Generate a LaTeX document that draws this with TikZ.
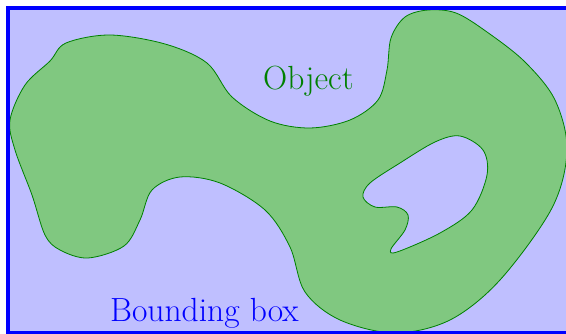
\documentclass[tikz,border=0pt]{standalone}
\begin{document}
\begin{tikzpicture}[x=1pt,y=-1pt,
  blobfill/.style={fill={rgb,255:red,128;green,200;blue,128}, draw=green!50!black, line width=0.8pt, even odd rule},
  lbl/.style={anchor=base west, inner sep=0pt, font=\fontsize{33.5}{40}\selectfont}]
\useasboundingbox (0,0) rectangle (566,334);
\fill[blue!25] (8,8) rectangle (572,333);
\path[blobfill]
  plot[smooth cycle, tension=0.55] coordinates {
   (10,120) (25,85) (50,61) (66,43) (110,35) (165,44) (207,63) (232,97)
   (270,121) (310,128) (350,120) (378,100) (387,70) (391,38) (405,17) (428,10)
   (456,13) (487,32) (525,62) (555,100) (567,150) (552,208) (500,280) (450,320) (395,333)
   (340,320) (305,292) (290,247) (265,210) (220,183) (180,177) (152,190) (140,220)
   (124,246) (88,258) (60,250) (45,235) (32,195) (15,150)}
  plot[smooth cycle, tension=0.55] coordinates {
   (460,136) (483,150) (487,175) (472,210) (440,233) (397,252) (391,249)
   (405,230) (408,215) (397,207) (375,207) (363,197) (370,183) (400,163) (435,142)};
\draw[blue, line width=4pt] (8,8) rectangle (572,333);
\node[lbl, text=green!50!black] (obj) at (263,90) {Object};
\node[lbl, text=blue] (bb) at (110,322) {Bounding box};
\end{tikzpicture}
\end{document}
